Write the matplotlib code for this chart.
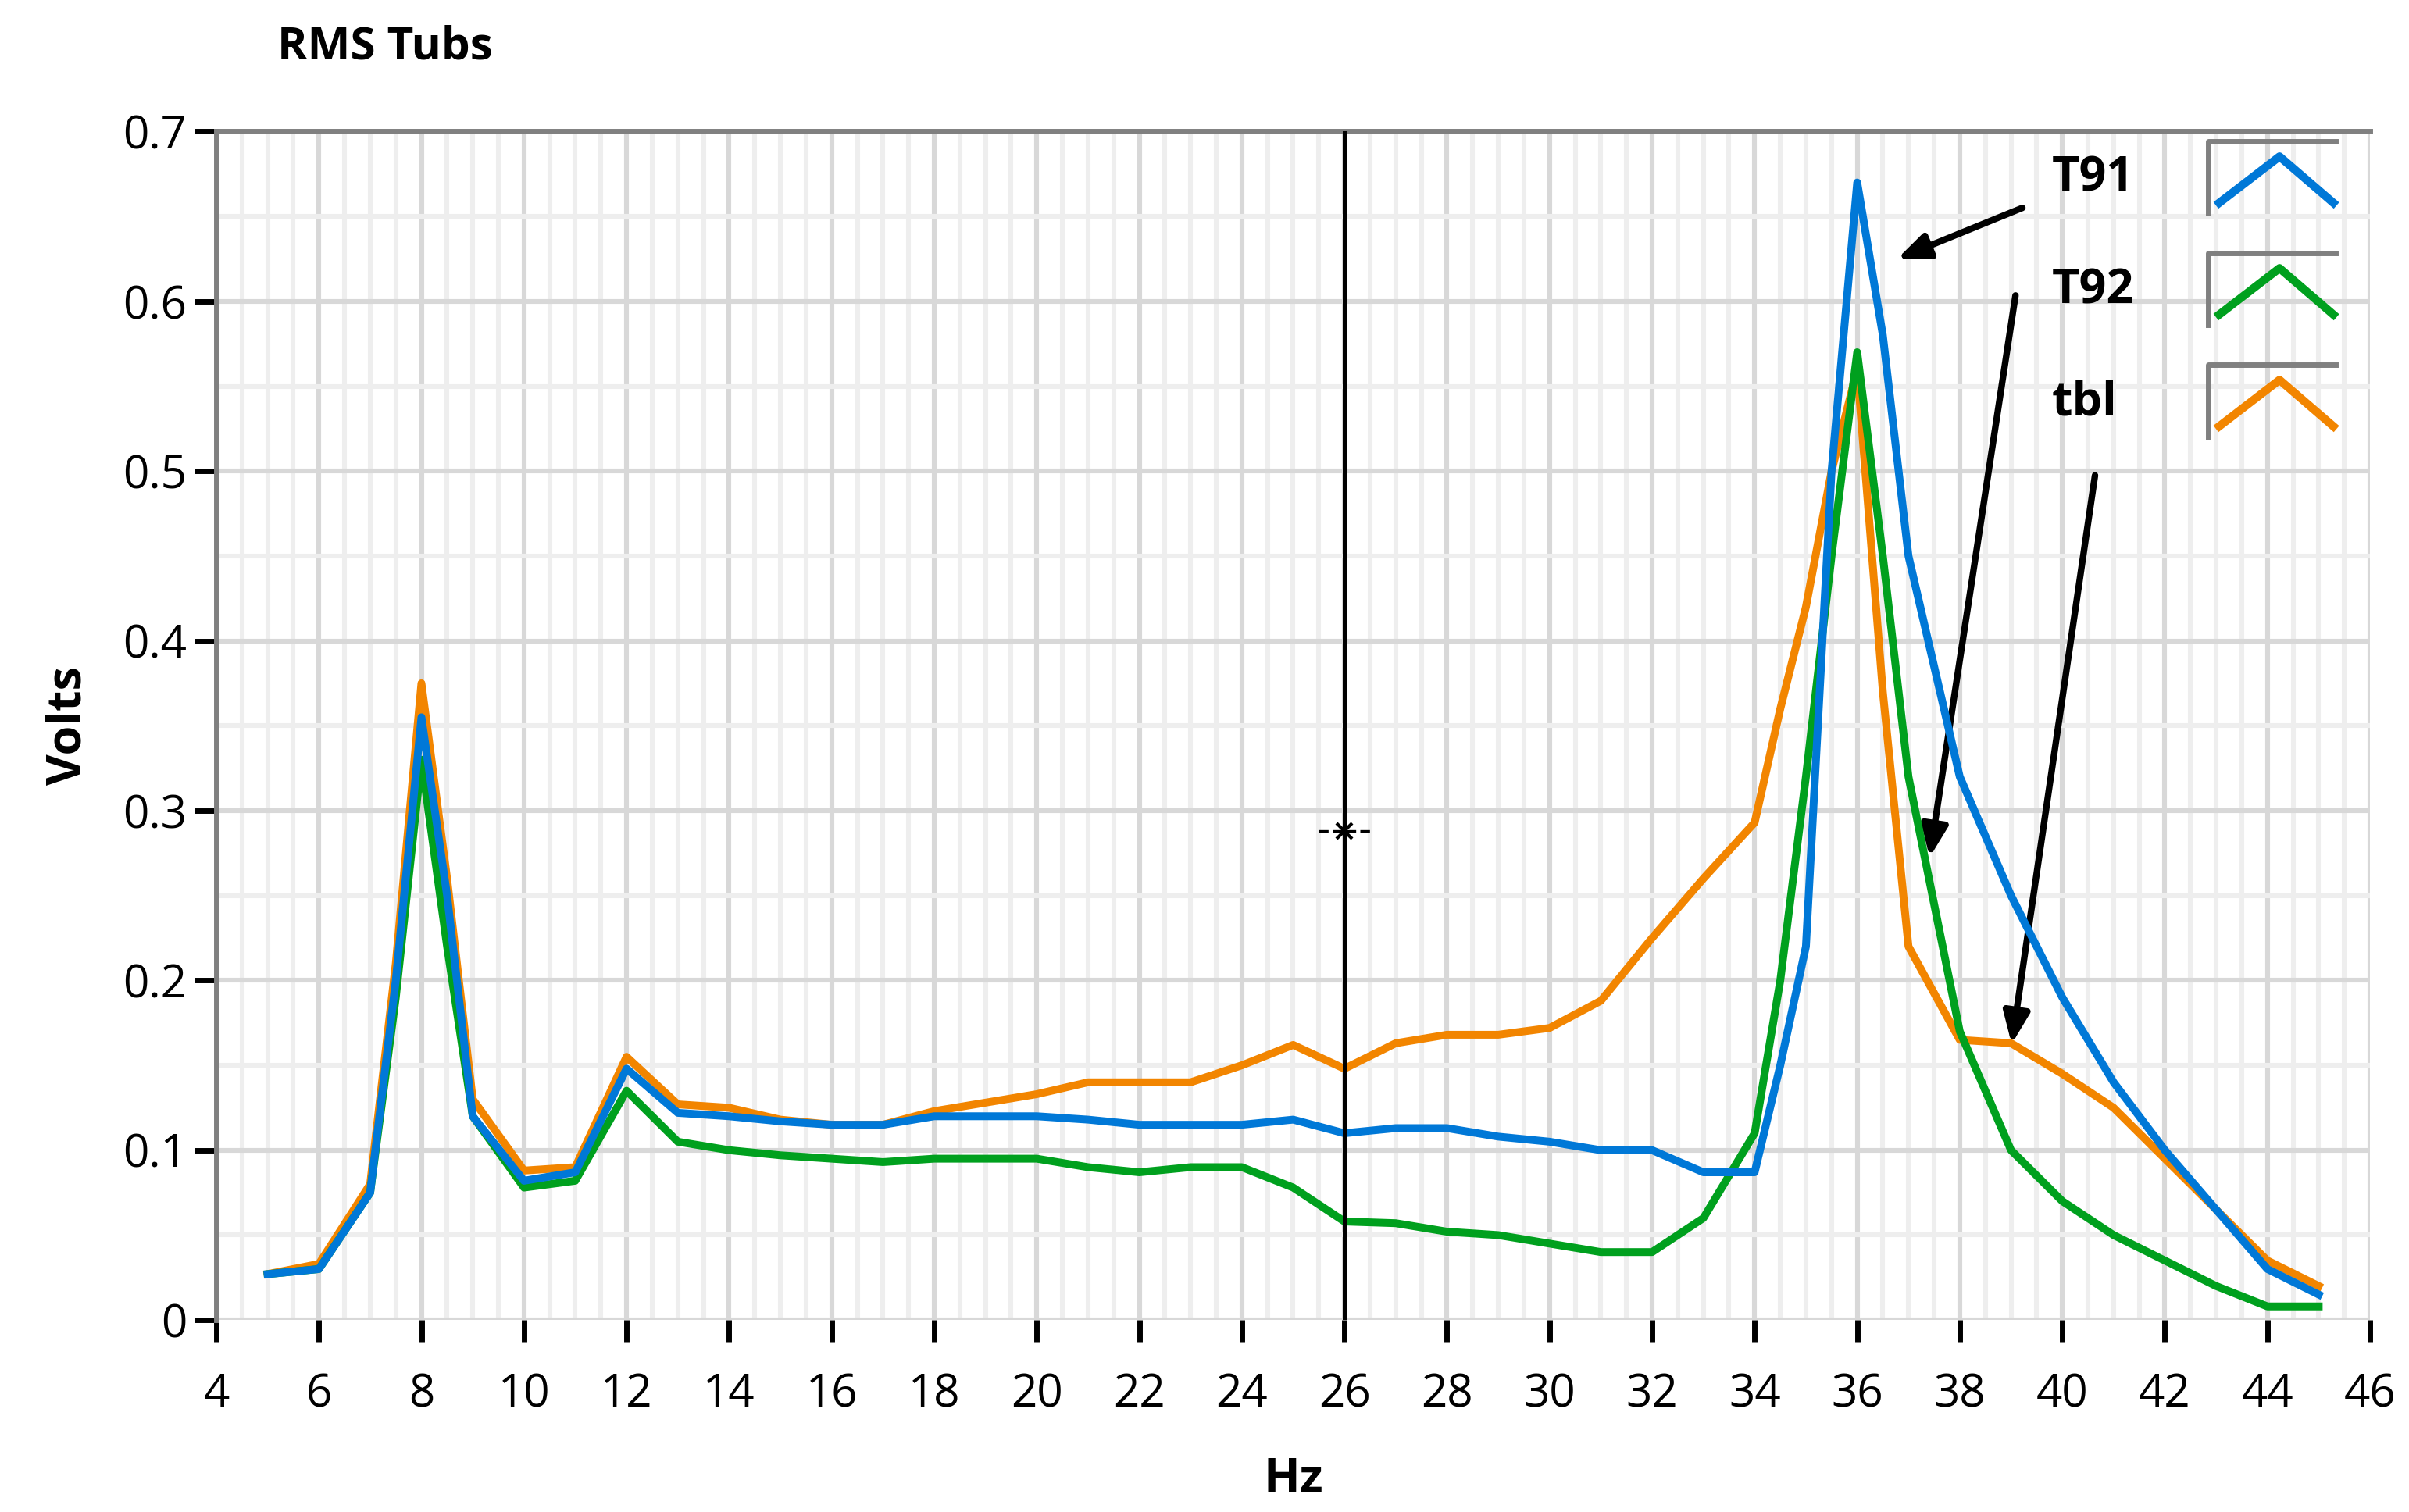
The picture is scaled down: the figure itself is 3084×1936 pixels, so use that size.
import numpy as np
import matplotlib.pyplot as plt
from matplotlib.ticker import MultipleLocator, FuncFormatter

plt.rcParams['font.family'] = ['Open Sans', 'DejaVu Sans']

# frequency (Hz) and RMS volts per tube
hz = [5, 6, 7, 7.5, 8, 8.5, 9, 10, 11, 12, 13, 14, 15, 16, 17, 18, 19, 20, 21, 22, 23, 24, 25,
      26, 27, 28, 29, 30, 31, 32, 33, 34, 34.5, 35, 35.5, 36, 36.5, 37, 38, 39, 40, 41, 42, 43, 44, 45]
t91 = [0.027, 0.03, 0.075, 0.2, 0.355, 0.25, 0.12, 0.082, 0.087, 0.148, 0.122, 0.12, 0.117, 0.115,
       0.115, 0.12, 0.12, 0.12, 0.118, 0.115, 0.115, 0.115, 0.118, 0.11, 0.113, 0.113, 0.108, 0.105,
       0.1, 0.1, 0.087, 0.087, 0.15, 0.22, 0.5, 0.67, 0.58, 0.45, 0.32, 0.25, 0.19, 0.14, 0.1, 0.065,
       0.03, 0.015]
t92 = [0.027, 0.03, 0.075, 0.19, 0.33, 0.22, 0.12, 0.078, 0.082, 0.135, 0.105, 0.1, 0.097, 0.095,
       0.093, 0.095, 0.095, 0.095, 0.09, 0.087, 0.09, 0.09, 0.078, 0.058, 0.057, 0.052, 0.05, 0.045,
       0.04, 0.04, 0.06, 0.11, 0.2, 0.32, 0.45, 0.57, 0.45, 0.32, 0.17, 0.1, 0.07, 0.05, 0.035, 0.02,
       0.008, 0.008]
tbl = [0.027, 0.033, 0.08, 0.21, 0.375, 0.26, 0.13, 0.088, 0.09, 0.155, 0.127, 0.125, 0.118, 0.115,
       0.115, 0.123, 0.128, 0.133, 0.14, 0.14, 0.14, 0.15, 0.162, 0.148, 0.163, 0.168, 0.168, 0.172,
       0.188, 0.225, 0.26, 0.293, 0.36, 0.42, 0.5, 0.56, 0.37, 0.22, 0.165, 0.163, 0.145, 0.125, 0.095,
       0.065, 0.035, 0.02]

colors = {'T91': '#0078d7', 'T92': '#00a01e', 'tbl': '#f28500'}

fig = plt.figure(figsize=(15.42, 9.68), dpi=200)
ax = fig.add_axes([0.0898, 0.127, 0.894, 0.786])

ax.plot(hz, tbl, color=colors['tbl'], lw=3.6, zorder=3)
ax.plot(hz, t92, color=colors['T92'], lw=3.6, zorder=4)
ax.plot(hz, t91, color=colors['T91'], lw=3.6, zorder=5)

ax.set_xlim(4, 46)
ax.set_ylim(0, 0.7)
ax.xaxis.set_major_locator(MultipleLocator(2))
ax.xaxis.set_minor_locator(MultipleLocator(0.5))
ax.yaxis.set_major_locator(MultipleLocator(0.1))
ax.yaxis.set_minor_locator(MultipleLocator(0.05))
ax.yaxis.set_major_formatter(FuncFormatter(lambda v, p: '0' if abs(v) < 1e-9 else f'{v:.1f}'))
ax.grid(which='major', color='#d8d8d8', lw=2.2)
ax.grid(which='minor', color='#eeeeee', lw=2.2)
ax.set_axisbelow(True)

for s in ['right', 'bottom']:
    ax.spines[s].set_visible(False)
for s in ['left', 'top']:
    ax.spines[s].set_color('#808080')
    ax.spines[s].set_linewidth(2.5)
ax.tick_params(axis='both', labelsize=21, width=2.5, length=10, color='black')
ax.tick_params(axis='x', pad=14)
ax.tick_params(which='minor', length=0)
ax.set_xlabel('Hz', fontsize=22, fontweight='bold', labelpad=18)
ax.set_ylabel('Volts', fontsize=22, fontweight='bold', labelpad=14)
fig.text(0.115, 0.969, 'RMS Tubs', fontsize=21, fontweight='bold', va='center')

# cursor
ax.axvline(26, color='black', lw=1.8, zorder=6)
ax.plot([25.5, 26.5], [0.288, 0.288], color='black', lw=1.2, ls='--', zorder=7)
ax.plot(26, 0.288, marker='x', color='black', ms=7, mew=1.5, zorder=7)

# labels with arrows
ap = dict(arrowstyle='-|>,head_width=0.5,head_length=1.2', color='black', lw=3)
ax.text(39.8, 0.672, 'T91', fontsize=22, fontweight='bold', va='center')
ax.annotate('', xy=(36.7, 0.624), xytext=(39.3, 0.656), arrowprops=ap)
ax.text(39.8, 0.606, 'T92', fontsize=22, fontweight='bold', va='center')
ax.annotate('', xy=(37.4, 0.27), xytext=(39.1, 0.606), arrowprops=ap)
ax.text(39.8, 0.54, 'tbl', fontsize=22, fontweight='bold', va='center')
ax.annotate('', xy=(39.0, 0.16), xytext=(40.65, 0.50), arrowprops=ap)

# legend boxes
for i, name in enumerate(['T91', 'T92', 'tbl']):
    dy = i * 0.094
    top, bot = 0.992 - dy, 0.931 - dy
    ax.plot([0.925, 0.925, 0.984], [bot, top, top], color='#808080', lw=2.5,
            transform=ax.transAxes, clip_on=False, zorder=8)
    ax.plot([0.930, 0.958, 0.983], [top - 0.052, top - 0.013, top - 0.052], color=colors[name],
            lw=3.8, transform=ax.transAxes, clip_on=False, zorder=8)

fig.savefig('out.png', dpi=200)
